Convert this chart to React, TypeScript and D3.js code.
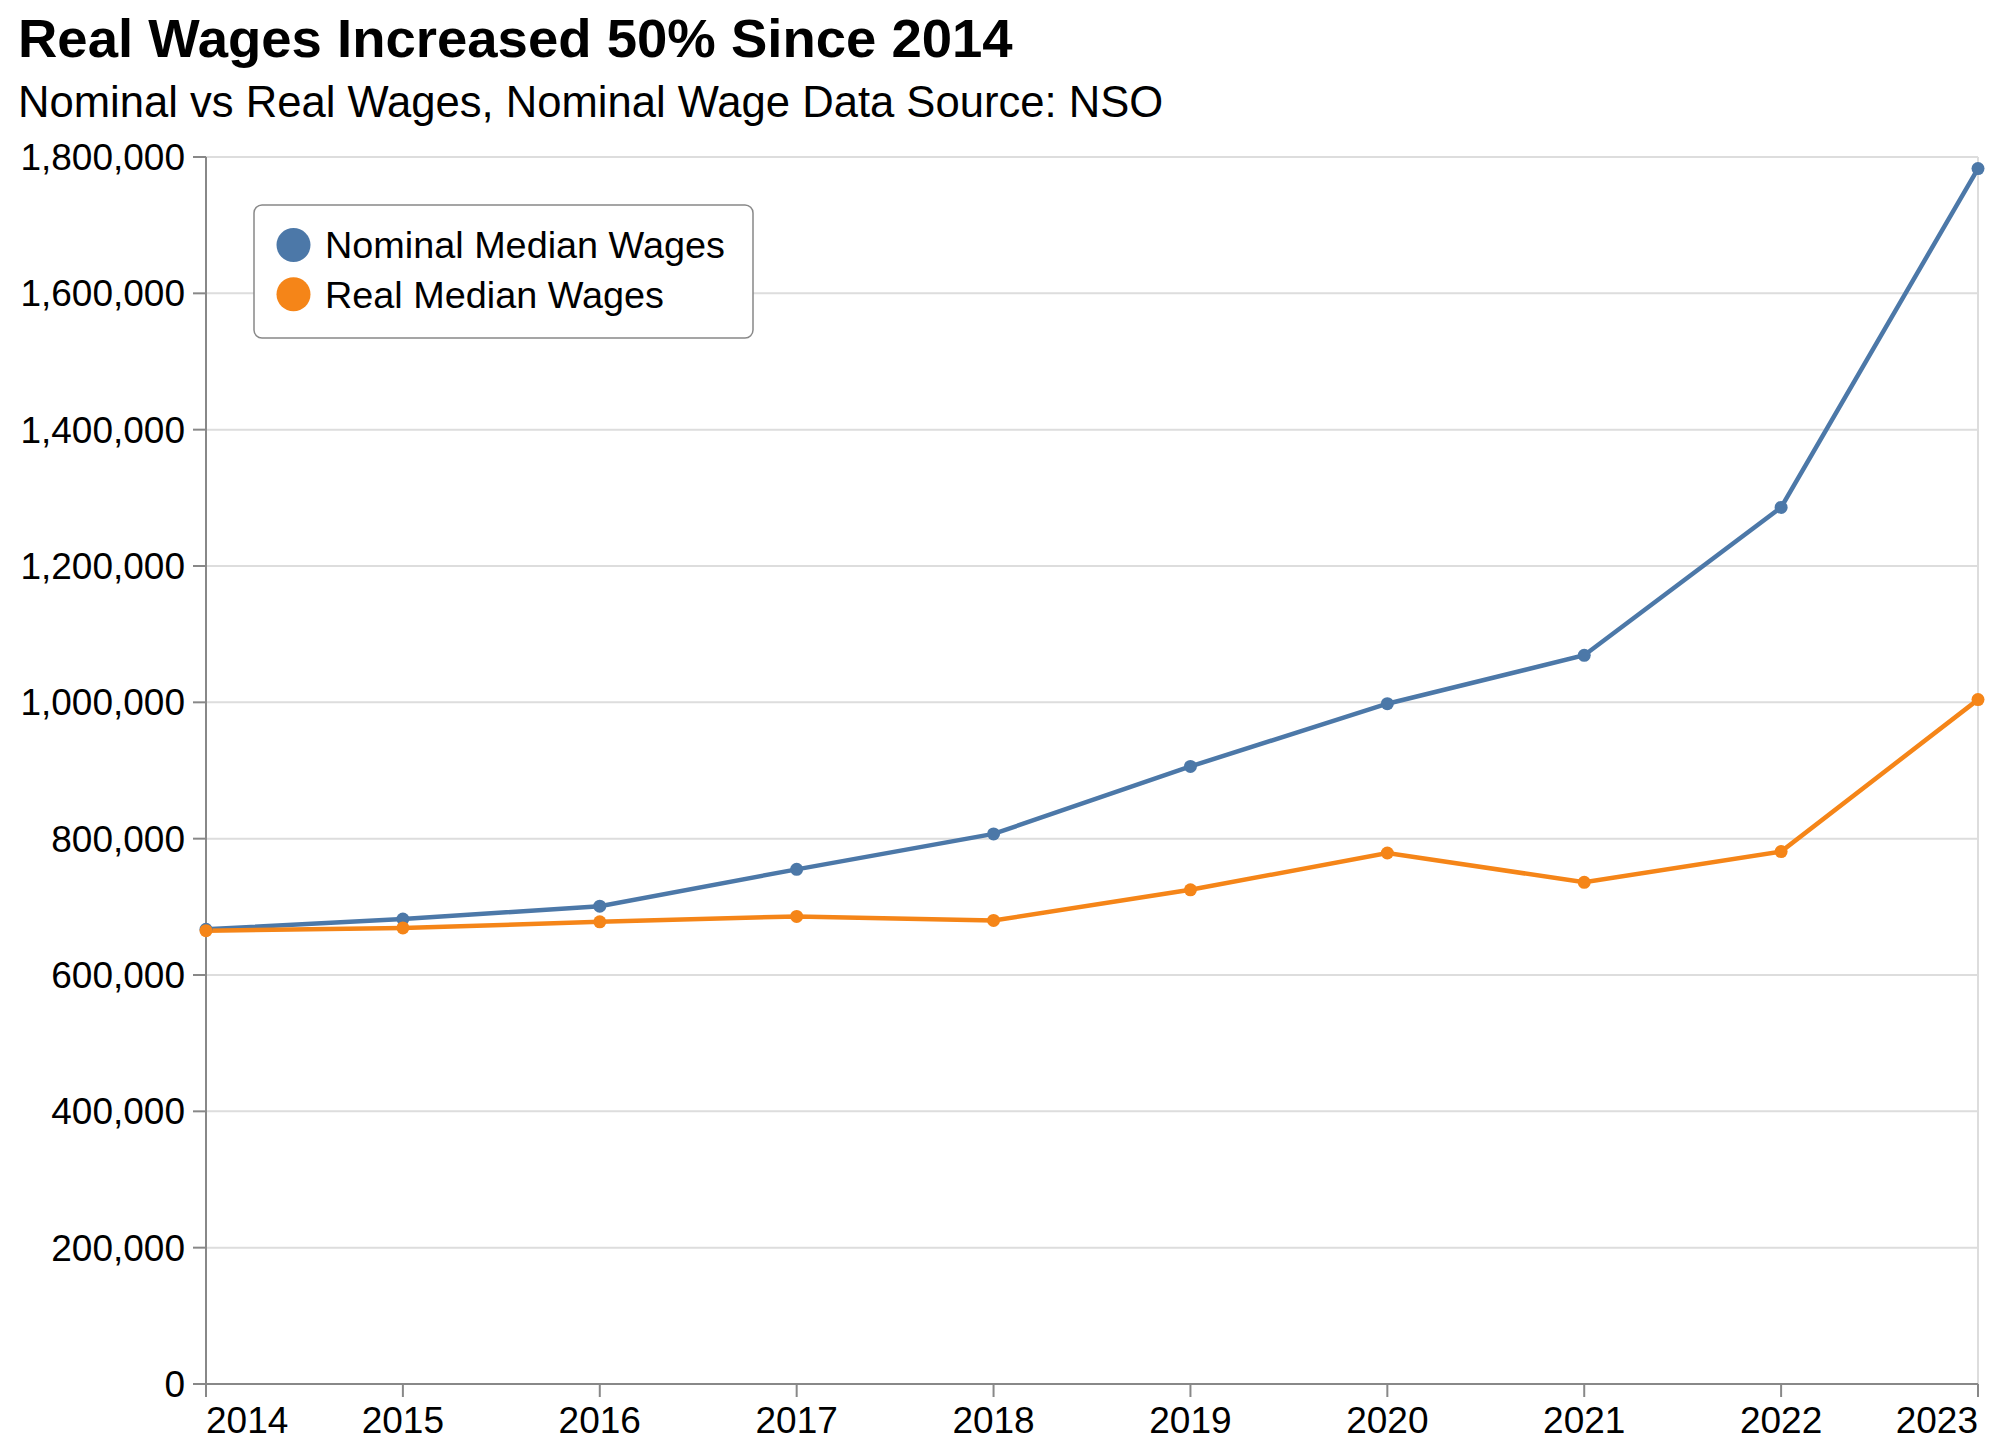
import React from "react";
import * as d3 from "d3";

const years = [2014, 2015, 2016, 2017, 2018, 2019, 2020, 2021, 2022, 2023];
const nominalWages = [667000, 682000, 701000, 755000, 807000, 906000, 998000, 1069000, 1286000, 1783000];
const realWages = [665000, 669000, 678000, 686000, 680000, 725000, 779000, 736000, 781000, 1004000];
const yTicks = [0, 200000, 400000, 600000, 800000, 1000000, 1200000, 1400000, 1600000, 1800000];
const seriesNames = ["Nominal Median Wages", "Real Median Wages"];
const seriesColors = ["#4c78a8", "#f58518"];
const titleText = "Real Wages Increased 50% Since 2014";
const subtitleText = "Nominal vs Real Wages, Nominal Wage Data Source: NSO";

const W = 2000;
const H = 1454;
const left = 206;
const right = 1978;
const top = 157;
const bottom = 1384;
const font = "'Liberation Sans', Arial, Helvetica, sans-serif";

export default function App() {
  const x = d3.scaleLinear().domain([2014, 2023]).range([left, right]);
  const y = d3.scaleLinear().domain([0, 1800000]).range([bottom, top]);
  const fmt = d3.format(",");
  const line = d3
    .line<number>()
    .x((_, i) => x(years[i]))
    .y((d) => y(d));
  const series = [nominalWages, realWages];

  return (
    <svg
      width={W}
      height={H}
      style={{ position: "absolute", left: 0, top: 0, background: "#fff" }}
      fontFamily={font}
    >
      <rect x={0} y={0} width={W} height={H} fill="#fff" />
      <text x={18} y={57} fontSize={54.5} fontWeight="bold" fill="#000">
        {titleText}
      </text>
      <text x={18} y={117} fontSize={43.6} fill="#000">
        {subtitleText}
      </text>
      {/* grid */}
      {yTicks.map((t) => (
        <line key={"g" + t} x1={left} x2={right} y1={y(t)} y2={y(t)} stroke="#ddd" strokeWidth={2} />
      ))}
      <line x1={right} x2={right} y1={top} y2={bottom} stroke="#ddd" strokeWidth={2} />
      {/* y axis */}
      <line x1={left} x2={left} y1={top} y2={bottom} stroke="#888" strokeWidth={2} />
      {yTicks.map((t) => (
        <g key={"y" + t}>
          <line x1={left - 13} x2={left} y1={y(t)} y2={y(t)} stroke="#888" strokeWidth={2} />
          <text x={185} y={y(t)} dy="0.35em" textAnchor="end" fontSize={37} fill="#000">
            {fmt(t)}
          </text>
        </g>
      ))}
      {/* x axis */}
      <line x1={left} x2={right} y1={bottom} y2={bottom} stroke="#888" strokeWidth={2} />
      {years.map((yr, i) => (
        <g key={"x" + yr}>
          <line x1={x(yr)} x2={x(yr)} y1={bottom} y2={bottom + 13} stroke="#888" strokeWidth={2} />
          <text
            x={x(yr)}
            y={bottom + 49}
            textAnchor={i === 0 ? "start" : i === years.length - 1 ? "end" : "middle"}
            fontSize={37}
            fill="#000"
          >
            {yr}
          </text>
        </g>
      ))}
      {/* lines */}
      {series.map((s, si) => (
        <path key={"l" + si} d={line(s) || ""} fill="none" stroke={seriesColors[si]} strokeWidth={4.5} />
      ))}
      {series.map((s, si) =>
        s.map((v, i) => (
          <circle key={"p" + si + "-" + i} cx={x(years[i])} cy={y(v)} r={6.5} fill={seriesColors[si]} />
        ))
      )}
      {/* legend */}
      <rect x={254} y={205} width={499} height={133} rx={8} fill="#fff" stroke="#888" strokeWidth={1.5} />
      {seriesNames.map((n, i) => (
        <g key={"lg" + i}>
          <circle cx={293.5} cy={245 + i * 49.3} r={17} fill={seriesColors[i]} />
          <text x={325} y={245 + i * 49.3} dy="0.35em" fontSize={37.8} fill="#000">
            {n}
          </text>
        </g>
      ))}
    </svg>
  );
}
